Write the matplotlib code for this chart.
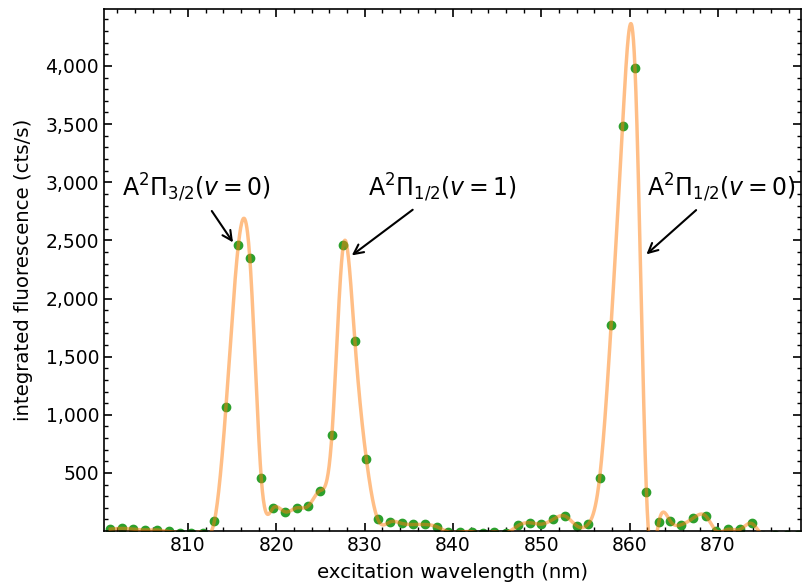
import matplotlib
matplotlib.use("Agg")
import matplotlib.pyplot as plt
import matplotlib.ticker as mticker
import numpy as np

# measured excitation wavelengths (nm) and integrated fluorescence (cts/s)
wavelength = [801.2, 802.5, 803.8, 805.1, 806.5, 807.8, 809.1, 810.4, 811.7, 813.0,
              814.3, 815.7, 817.0, 818.3, 819.6, 821.0, 822.3, 823.6, 824.9, 826.3,
              827.6, 828.9, 830.2, 831.5, 832.9, 834.2, 835.5, 836.8, 838.2, 839.4,
              840.8, 842.1, 843.4, 844.7, 846.0, 847.4, 848.7, 850.0, 851.3, 852.7,
              854.0, 855.3, 856.6, 857.9, 859.2, 860.6, 861.9, 863.3, 864.6, 865.8,
              867.2, 868.6, 869.8, 871.1, 872.5, 873.8, 875.1, 876.4, 877.8, 879.1]
fluorescence = [17, 23, 17, 10, 10, -3, -15, -20, -15, 88,
                1065, 2457, 2351, 455, 195, 166, 200, 215, 346, 830,
                2463, 1632, 618, 100, 80, 66, 57, 57, 37, -5,
                -8, -5, -20, -8, -15, 49, 72, 60, 100, 129,
                46, 60, 458, 1770, 3488, 3986, 338, 77, 86, 54,
                112, 131, 3, 15, 15, 66, -40, -30, -30, -30]

labels = [r'A$^2\Pi_{3/2}(v=0)$', r'A$^2\Pi_{1/2}(v=1)$', r'A$^2\Pi_{1/2}(v=0)$']
label_xy = [(815.1, 2483), (828.55, 2371), (861.9, 2380)]
label_text_xy = [(810.9, 2955), (838.8, 2955), (870.4, 2955)]


def natural_spline(x, y, xs):
    # natural cubic spline through the data points
    x = np.asarray(x, float)
    y = np.asarray(y, float)
    n = len(x)
    h = np.diff(x)
    A = np.zeros((n, n))
    b = np.zeros(n)
    A[0, 0] = 1
    A[-1, -1] = 1
    for i in range(1, n - 1):
        A[i, i - 1] = h[i - 1]
        A[i, i] = 2 * (h[i - 1] + h[i])
        A[i, i + 1] = h[i]
        b[i] = 6 * ((y[i + 1] - y[i]) / h[i] - (y[i] - y[i - 1]) / h[i - 1])
    M = np.linalg.solve(A, b)
    idx = np.clip(np.searchsorted(x, xs) - 1, 0, n - 2)
    x0, x1 = x[idx], x[idx + 1]
    hh = x1 - x0
    t0 = x1 - xs
    t1 = xs - x0
    return (M[idx] * t0 ** 3 / (6 * hh) + M[idx + 1] * t1 ** 3 / (6 * hh)
            + (y[idx] / hh - M[idx] * hh / 6) * t0
            + (y[idx + 1] / hh - M[idx + 1] * hh / 6) * t1)


xs = np.linspace(wavelength[0], wavelength[-1], 2000)
ys = natural_spline(wavelength, fluorescence, xs)

fig = plt.figure(figsize=(8.02, 5.87), dpi=100)
ax = fig.add_axes([0.1297, 0.0954, 0.8691, 0.8893])

ax.plot(wavelength, fluorescence, 'o', color='#2ca02c', markersize=6, zorder=2)
ax.plot(xs, ys, color='tab:orange', alpha=0.5, lw=2.5, zorder=3)

for lab, xy, xyt in zip(labels, label_xy, label_text_xy):
    ax.annotate(lab, xy=xy, xytext=xyt, ha='center', va='center', fontsize=17,
                arrowprops=dict(arrowstyle='->', color='black', lw=1.5, shrinkA=4, shrinkB=0))

ax.set_xlim(800.5, 879.4)
ax.set_ylim(1, 4490)
ax.set_xlabel('excitation wavelength (nm)', fontsize=14.2, labelpad=6)
ax.set_ylabel('integrated fluorescence (cts/s)', fontsize=14.2, labelpad=9)

ax.xaxis.set_major_locator(mticker.MultipleLocator(10))
ax.xaxis.set_minor_locator(mticker.MultipleLocator(2))
ax.yaxis.set_major_locator(mticker.MultipleLocator(500))
ax.yaxis.set_minor_locator(mticker.MultipleLocator(100))
ax.yaxis.set_major_formatter(mticker.StrMethodFormatter('{x:,.0f}'))
ax.tick_params(which='both', direction='in', top=True, right=True, labelsize=13.5)
ax.tick_params(which='major', length=6, width=1.2)
ax.tick_params(which='minor', length=3, width=1)
for s in ax.spines.values():
    s.set_linewidth(1.2)

fig.savefig('out.png', dpi=100)
